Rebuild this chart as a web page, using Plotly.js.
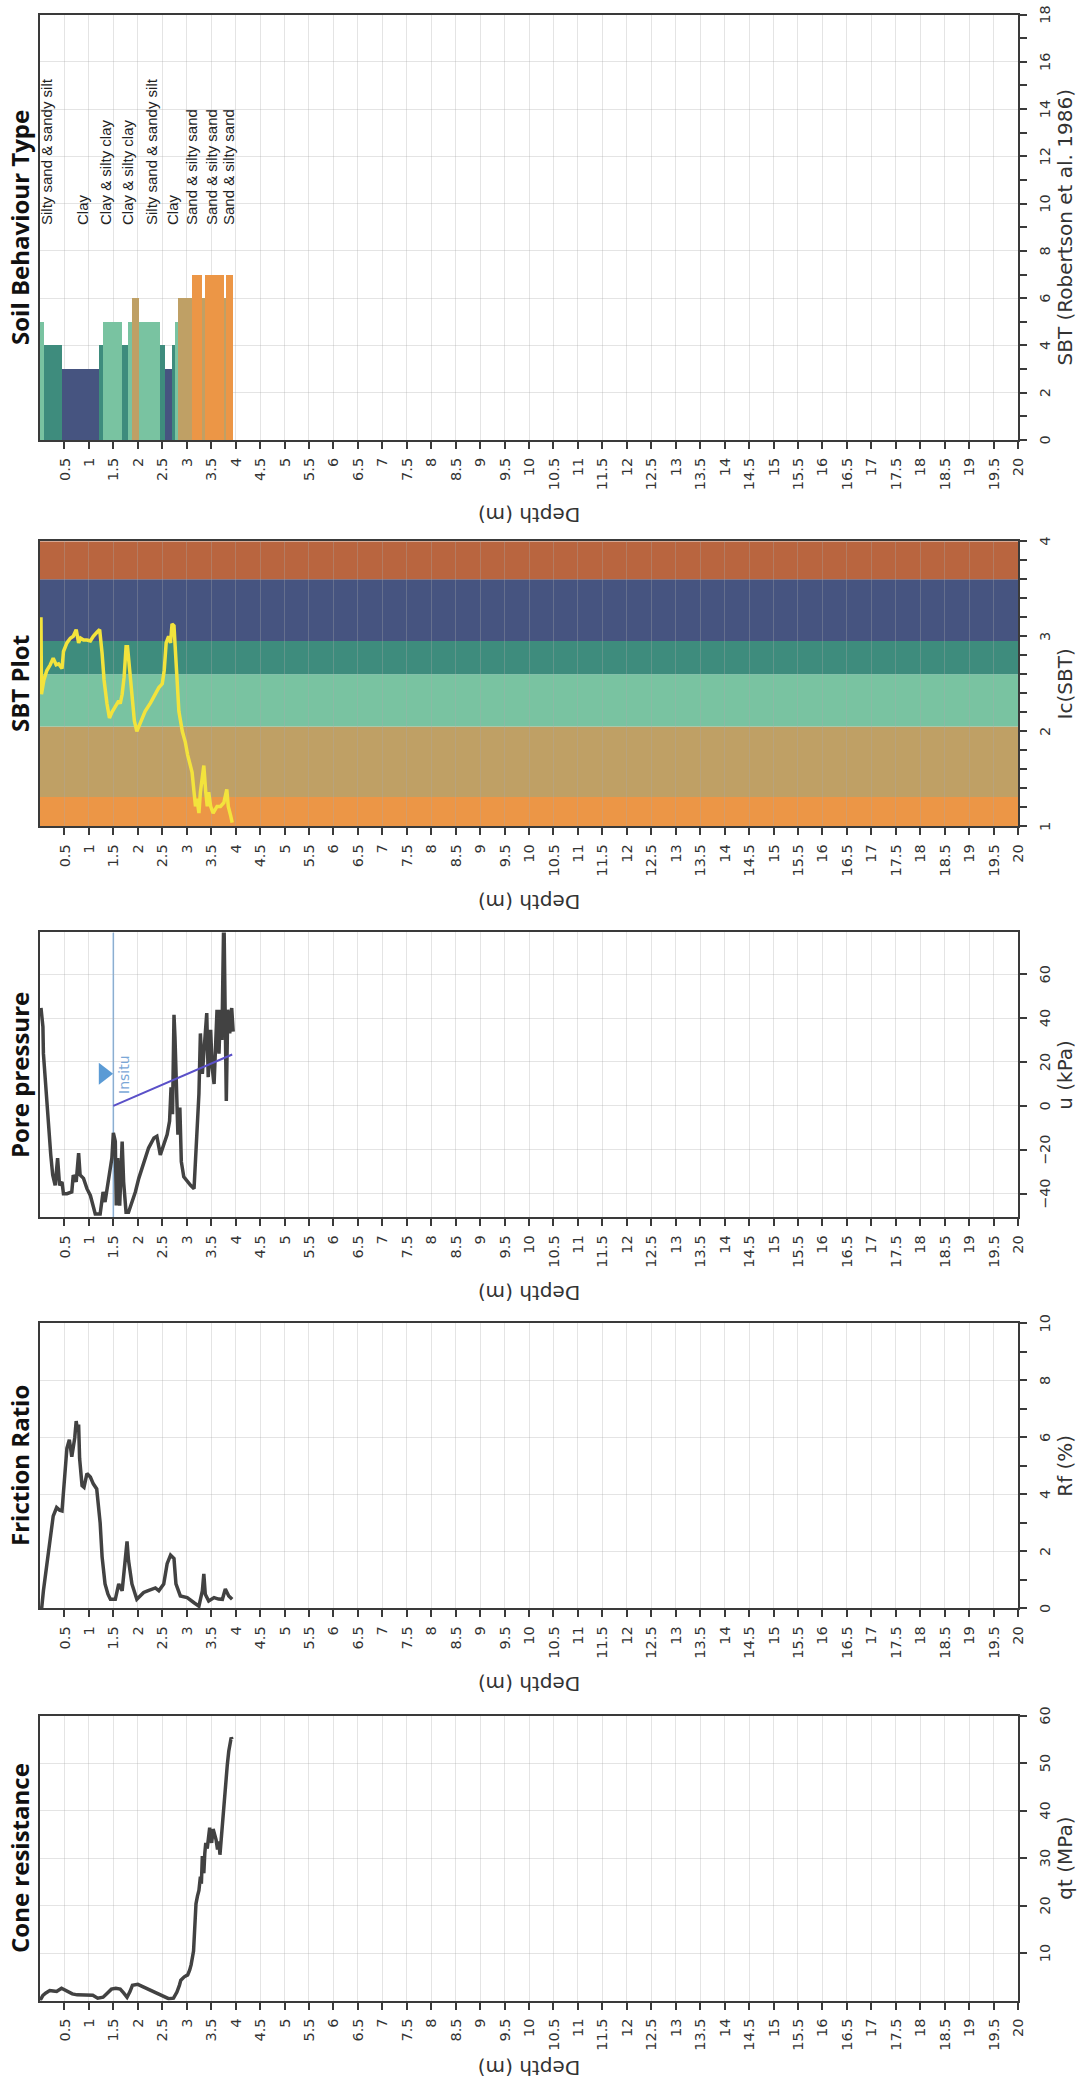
<!DOCTYPE html>
<html>
<head>
<meta charset="utf-8">
<script src="https://cdn.plot.ly/plotly-3.0.1.min.js"></script>
<style>
  html, body { margin: 0; padding: 0; width: 1080px; height: 2080px; overflow: hidden; background: #ffffff; }
  /* The CPT log is laid out with depth running down the page, then turned a quarter turn. */
  #wrap { position: absolute; left: 0; top: 0; width: 2080px; height: 1080px;
          transform-origin: 0 0; transform: translate(0px, 2080px) rotate(-90deg); }
  #chart { width: 2080px; height: 1080px; }
</style>
</head>
<body>
<div id="wrap"><div id="chart"></div></div>
<script>
// ---- Cone resistance qt (MPa) ----
const coneDepth = [0.00,0.06,0.12,0.20,0.27,0.34,0.44,0.50,0.58,0.66,0.76,0.88,1.00,1.08,1.18,1.29,1.37,1.46,1.55,1.64,1.71,1.78,1.84,1.89,2.00,2.10,2.20,2.28,2.38,2.49,2.57,2.63,2.73,2.80,2.85,2.88,2.95,3.02,3.06,3.09,3.14,3.17,3.19,3.22,3.25,3.28,3.30,3.32,3.35,3.37,3.39,3.42,3.44,3.47,3.49,3.51,3.54,3.57,3.60,3.63,3.66,3.68,3.72,3.75,3.77,3.79,3.81,3.83,3.86,3.89,3.91,3.93];
const coneQt    = [0.0,1.1,1.6,2.1,2.0,1.9,2.6,2.3,1.8,1.4,1.2,1.1,1.1,1.1,0.5,0.7,1.5,2.4,2.6,2.4,1.6,0.7,1.9,3.2,3.4,2.9,2.4,2.1,1.6,1.1,0.6,0.4,0.5,1.8,3.2,4.3,5.0,5.4,6.4,7.5,10.4,16.8,20.4,22.0,23.2,26.1,24.6,30.4,26.8,31.0,33.2,32.0,34.6,36.4,34.0,33.2,36.1,35.0,33.9,31.8,33.5,30.7,36.1,39.0,41.8,43.9,46.5,49.6,52.5,54.0,55.4,55.0];

// ---- Friction ratio Rf (%) ----
const frDepth = [0.00,0.035,0.07,0.14,0.21,0.27,0.34,0.40,0.45,0.51,0.55,0.60,0.65,0.71,0.74,0.77,0.79,0.81,0.86,0.90,0.96,1.03,1.09,1.16,1.23,1.27,1.33,1.39,1.44,1.54,1.61,1.68,1.74,1.78,1.81,1.88,1.98,2.05,2.12,2.20,2.29,2.36,2.43,2.53,2.60,2.67,2.74,2.78,2.87,3.01,3.15,3.25,3.32,3.35,3.38,3.45,3.56,3.65,3.73,3.79,3.86,3.93];
const frRf    = [0.0,0.02,0.62,1.57,2.4,3.24,3.54,3.45,3.42,4.55,5.62,5.92,5.32,5.98,6.57,6.2,6.45,5.26,4.31,4.25,4.73,4.61,4.37,4.19,3.0,1.81,0.86,0.5,0.32,0.32,0.86,0.62,1.81,2.35,1.69,0.86,0.32,0.45,0.56,0.62,0.68,0.72,0.62,0.86,1.57,1.87,1.75,0.86,0.44,0.38,0.2,0.08,0.62,1.21,0.5,0.26,0.38,0.33,0.32,0.68,0.44,0.32];

// ---- Pore pressure u (kPa) ----
const poreDepth = [0.02,0.05,0.06,0.07,0.10,0.14,0.17,0.22,0.26,0.31,0.36,0.40,0.45,0.48,0.55,0.65,0.68,0.74,0.79,0.82,0.89,0.96,1.03,1.08,1.13,1.23,1.29,1.33,1.38,1.44,1.47,1.50,1.54,1.56,1.59,1.63,1.68,1.71,1.76,1.81,1.88,1.95,2.02,2.09,2.15,2.22,2.33,2.39,2.46,2.53,2.60,2.65,2.68,2.71,2.74,2.76,2.79,2.82,2.86,2.89,2.94,3.01,3.08,3.15,3.18,3.21,3.25,3.28,3.32,3.35,3.41,3.44,3.49,3.52,3.56,3.59,3.62,3.66,3.69,3.72,3.76,3.79,3.81,3.84,3.88,3.92,3.95];
const poreU     = [44.6,40,36,23.8,14.6,2.3,-10,-22.3,-31.5,-36.2,-23.8,-36.2,-34.6,-40,-40,-39.2,-31.5,-34.6,-21.5,-31.5,-33,-37.7,-40.8,-45.4,-49.2,-49.2,-39.2,-43.8,-36.9,-28.5,-23.8,-12.3,-16.2,-45.4,-23.8,-45.4,-16.2,-34.6,-48.5,-48.5,-43.8,-39.2,-33,-27.7,-23.8,-19.2,-14.6,-13.8,-22.3,-17.7,-13.1,-6.9,8.5,-3.8,41.5,31.5,10,-13.1,-0.8,-25.4,-32.3,-34.6,-36.2,-37.7,-25.4,-10,5.4,33,14.6,23.8,42.3,13.1,34.6,17.7,10,26.9,43.8,23.8,43.8,30,90,36.2,2.3,43.8,33,44.6,33.8];

// In-situ (hydrostatic) pore pressure line and water table
const insituDepth = [1.5, 3.93];
const insituU     = [0, 23.4];
const waterTableDepth = 1.5;
const waterMarkDepth = [1.30];
const waterMarkU     = [14.6];
const insituLabel = { text: 'Insitu', depth: 1.72, u: 14.3 };

// ---- Soil behaviour type index Ic ----
const icDepth = [0.02,0.03,0.08,0.14,0.21,0.27,0.33,0.38,0.45,0.48,0.55,0.62,0.68,0.74,0.79,0.83,0.89,0.96,1.03,1.09,1.16,1.22,1.27,1.31,1.37,1.42,1.47,1.54,1.61,1.64,1.68,1.72,1.76,1.79,1.83,1.88,1.93,1.98,2.05,2.15,2.26,2.36,2.43,2.50,2.54,2.58,2.63,2.67,2.70,2.74,2.77,2.80,2.84,2.91,2.97,3.02,3.08,3.11,3.15,3.18,3.21,3.25,3.28,3.32,3.35,3.39,3.42,3.45,3.49,3.54,3.62,3.69,3.76,3.82,3.85,3.90,3.93];
const icValue = [3.20,2.39,2.54,2.64,2.70,2.77,2.70,2.71,2.66,2.84,2.93,2.98,3.00,3.07,2.93,2.98,2.96,2.96,2.95,3.00,3.04,3.07,2.82,2.54,2.29,2.14,2.20,2.27,2.32,2.29,2.39,2.57,2.89,2.89,2.64,2.39,2.11,2.00,2.09,2.21,2.30,2.39,2.46,2.50,2.64,2.93,3.00,2.93,3.13,3.11,2.86,2.54,2.21,2.00,1.89,1.75,1.64,1.57,1.36,1.21,1.29,1.14,1.36,1.50,1.64,1.36,1.21,1.36,1.21,1.14,1.21,1.21,1.25,1.39,1.21,1.11,1.04];

// Ic zone boundaries (low to high) and their fill colours
const icZoneBounds = [1, 1.31, 2.05, 2.6, 2.95, 3.6, 4];
const icZoneColors = ['#EC9646', '#BFA065', '#79C3A1', '#3E8C7D', '#465480', '#B9653F'];

// ---- Soil behaviour type layers ----
const layerTop    = [0.00,0.08,0.44,1.20,1.28,1.68,1.80,1.89,2.02,2.45,2.55,2.70,2.76,2.82,3.10,3.32,3.38,3.76,3.81];
const layerBottom = [0.08,0.44,1.20,1.28,1.68,1.80,1.89,2.02,2.45,2.55,2.70,2.76,2.82,3.10,3.32,3.38,3.76,3.81,3.95];
const layerZone   = [5,4,3,4,5,4,5,6,5,4,3,4,5,6,7,6,7,6,7];
const zoneColor = { 3: '#465480', 4: '#3E8C7D', 5: '#79C3A1', 6: '#BFA065', 7: '#EC9646' };

const sbtLabelDepth = [0.13, 0.87, 1.33, 1.78, 2.28, 2.70, 3.09, 3.51, 3.86];
const sbtLabelText  = ['Silty sand & sandy silt', 'Clay', 'Clay & silty clay', 'Clay & silty clay',
                       'Silty sand & sandy silt', 'Clay', 'Sand & silty sand', 'Sand & silty sand', 'Sand & silty sand'];
const sbtLabelAt = 9;

// ---- Axis ticks ----
const depthTicks = [0.5,1,1.5,2,2.5,3,3.5,4,4.5,5,5.5,6,6.5,7,7.5,8,8.5,9,9.5,10,10.5,11,11.5,12,12.5,13,13.5,14,14.5,15,15.5,16,16.5,17,17.5,18,18.5,19,19.5,20];
const coneTicks = [10, 20, 30, 40, 50, 60];
const poreTicks = [-40, -20, 0, 20, 40, 60];

const panelTitles = ['Cone resistance', 'Friction Ratio', 'Pore pressure', 'SBT Plot', 'Soil Behaviour Type'];
const valueTitles = ['qt (MPa)', 'Rf (%)', 'u (kPa)', 'Ic(SBT)', 'SBT (Robertson et al. 1986)'];

// ---- Styling ----
const INK = '#3a3a3a';
const GRID = 'rgba(170,170,170,0.32)';
const TICK_FONT = { family: 'DejaVu Sans, Verdana, sans-serif', size: 14.5, color: '#333' };
const TITLE_FONT = { family: 'DejaVu Sans, Verdana, sans-serif', size: 20, color: '#333' };
const HEAD_FONT = { family: 'Open Sans, DejaVu Sans, sans-serif', size: 24, color: '#111', weight: 'bold' };

const domains = [
  [0.0382, 0.1752],
  [0.2267, 0.3638],
  [0.4147, 0.5517],
  [0.6027, 0.7398],
  [0.7885, 0.9930]
];

function depthAxis(anchor) {
  return {
    anchor: anchor, domain: [0, 1], range: [20, 0],
    tickmode: 'array', tickvals: depthTicks, ticktext: depthTicks.map(String),
    ticks: 'outside', ticklen: 7, tickwidth: 2, tickcolor: INK,
    showline: true, mirror: true, linecolor: INK, linewidth: 2,
    showgrid: true, gridcolor: GRID, gridwidth: 1, zeroline: false,
    tickfont: TICK_FONT, ticklabelstandoff: 6,
    title: { text: 'Depth (m)', font: TITLE_FONT, standoff: 12 }
  };
}

function valueAxis(i, extra) {
  return Object.assign({
    domain: domains[i], anchor: i === 0 ? 'y' : 'y' + (i + 1), side: 'bottom',
    ticks: 'outside', ticklen: 7, tickwidth: 2, tickcolor: INK,
    showline: true, mirror: true, linecolor: INK, linewidth: 2,
    showgrid: true, gridcolor: GRID, gridwidth: 1, zeroline: false,
    tickfont: TICK_FONT, ticklabelstandoff: 6,
    title: { text: valueTitles[i], font: TITLE_FONT, standoff: 6 }
  }, extra);
}

const minorTicks = (d) => ({ dtick: d, ticks: 'outside', ticklen: 7, tickwidth: 2, tickcolor: INK, showgrid: false });

const layerMid = layerTop.map((t, i) => (t + layerBottom[i]) / 2);
const layerThick = layerTop.map((t, i) => layerBottom[i] - t);

const traces = [
  { type: 'scatter', mode: 'lines', x: coneQt, y: coneDepth, xaxis: 'x', yaxis: 'y',
    line: { color: '#424242', width: 3.5 } },
  { type: 'scatter', mode: 'lines', x: frRf, y: frDepth, xaxis: 'x2', yaxis: 'y2',
    line: { color: '#424242', width: 3.5 } },
  { type: 'scatter', mode: 'lines', x: poreU, y: poreDepth, xaxis: 'x3', yaxis: 'y3',
    line: { color: '#424242', width: 3.5 } },
  { type: 'scatter', mode: 'lines', x: insituU, y: insituDepth, xaxis: 'x3', yaxis: 'y3',
    line: { color: '#5a50c8', width: 2 } },
  { type: 'scatter', mode: 'markers', x: waterMarkU, y: waterMarkDepth, xaxis: 'x3', yaxis: 'y3',
    marker: { symbol: 'triangle-down', size: 19, color: '#5b9bd5' } },
  { type: 'scatter', mode: 'lines', x: icValue, y: icDepth, xaxis: 'x4', yaxis: 'y4',
    line: { color: '#F3E33C', width: 3.5 } },
  { type: 'bar', orientation: 'h', x: layerZone, y: layerMid, width: layerThick, base: 0,
    xaxis: 'x5', yaxis: 'y5',
    marker: { color: layerZone.map(z => zoneColor[z]), line: { width: 0 } } }
];

const shapes = icZoneBounds.slice(0, -1).map((lo, i) => ({
  type: 'rect', layer: 'below', xref: 'x4', yref: 'y4',
  x0: lo, x1: icZoneBounds[i + 1], y0: 0, y1: 20,
  fillcolor: icZoneColors[i], line: { width: 0 }
}));
// Water table level across the pore pressure panel
shapes.push({
  type: 'line', layer: 'below', xref: 'x3', yref: 'y3',
  x0: -50.8, x1: 79, y0: waterTableDepth, y1: waterTableDepth,
  line: { color: '#7fb0e0', width: 1.5 }
});

const annotations = panelTitles.map((t, i) => ({
  text: t, showarrow: false,
  xref: (i === 0 ? 'x' : 'x' + (i + 1)) + ' domain', yref: (i === 0 ? 'y' : 'y' + (i + 1)) + ' domain',
  x: 0.5, y: 1, yshift: 21, xanchor: 'center', yanchor: 'middle', font: HEAD_FONT
}));
sbtLabelText.forEach((t, i) => annotations.push({
  text: t, showarrow: false, xref: 'x5', yref: 'y5', x: sbtLabelAt, y: sbtLabelDepth[i],
  xanchor: 'left', yanchor: 'middle',
  font: { family: 'Liberation Sans, Arial, sans-serif', size: 15, color: '#222' }
}));
annotations.push({
  text: insituLabel.text, showarrow: false, xref: 'x3', yref: 'y3',
  x: insituLabel.u, y: insituLabel.depth, xanchor: 'center', yanchor: 'middle',
  font: { family: 'DejaVu Sans, sans-serif', size: 14, color: '#7ba7d7' }
});

const layout = {
  width: 2080, height: 1080,
  margin: { l: 0, r: 0, t: 40, b: 62 },
  paper_bgcolor: '#ffffff', plot_bgcolor: '#ffffff',
  showlegend: false, bargap: 0,
  xaxis:  valueAxis(0, { range: [0, 60], tickmode: 'array', tickvals: coneTicks }),
  xaxis2: valueAxis(1, { range: [0, 10], dtick: 2, tick0: 0, minor: minorTicks(1) }),
  xaxis3: valueAxis(2, { range: [-50.8, 79], tickmode: 'array', tickvals: poreTicks }),
  xaxis4: valueAxis(3, { range: [1, 4], dtick: 1, tick0: 1, showgrid: false, minor: minorTicks(0.2) }),
  xaxis5: valueAxis(4, { range: [0, 18], dtick: 2, tick0: 0, minor: minorTicks(1) }),
  yaxis:  depthAxis('x'),
  yaxis2: depthAxis('x2'),
  yaxis3: depthAxis('x3'),
  yaxis4: depthAxis('x4'),
  yaxis5: depthAxis('x5'),
  shapes: shapes,
  annotations: annotations
};

Plotly.newPlot('chart', traces, layout, { staticPlot: true, displayModeBar: false });
</script>
</body>
</html>
